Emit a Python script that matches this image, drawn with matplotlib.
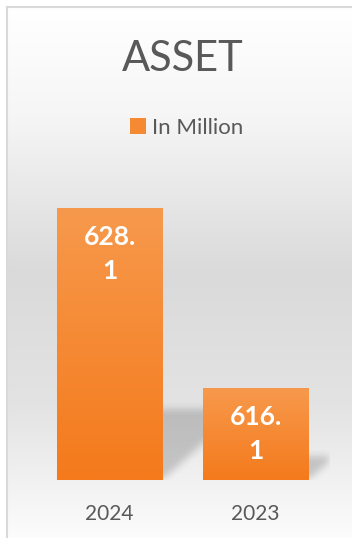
import numpy as np
import matplotlib.pyplot as plt
from matplotlib.patches import Patch
from matplotlib.path import Path

# Datos
years = ['2024', '2023']
values = [628.1, 616.1]
series_name = 'In Million'
title = 'ASSET'
y_min, y_max = 610, 630

plt.rcParams['font.family'] = ['Lato', 'DejaVu Sans']

W, H = 352, 538
fig = plt.figure(figsize=(W / 100, H / 100), dpi=100)

# Fondo con degradado y borde
bg = fig.add_axes([7 / W, 0, 1 - 7 / W, 1 - 7 / H], zorder=-10)
g = np.interp(np.linspace(0, 1, 400), [0, 0.2, 0.5, 0.75, 1], [255, 246, 218, 227, 252]) / 255
bg.imshow(np.stack([g, g, g], axis=-1)[:, None, :].repeat(2, axis=1), aspect='auto',
          extent=[0, 1, 0, 1], origin='upper')
bg.set_xticks([])
bg.set_yticks([])
for s in ['right', 'bottom']:
    bg.spines[s].set_visible(False)
for s in ['left', 'top']:
    bg.spines[s].set_color('#d9d9d9')
    bg.spines[s].set_linewidth(1.5)

# Área del gráfico
ax = fig.add_axes([36.5 / W, 58 / H, 292 / W, 300 / H])
ax.set_facecolor('none')
x = np.arange(len(years))
width = 105 / 146
ax.set_xlim(-0.5, len(years) - 0.5)
ax.set_ylim(y_min, y_max)

bars = ax.bar(x, np.array(values) - y_min, bottom=y_min, width=width,
              color='none', zorder=3)

# Degradado de las barras
t = np.linspace(0, 1, 100)[:, None, None]
top_c = np.array([247, 153, 76]) / 255
bot_c = np.array([244, 122, 28]) / 255
bar_img = (top_c * (1 - t) + bot_c * t).repeat(2, axis=1)
for b in bars:
    x0, y0 = b.get_x(), b.get_y()
    im = ax.imshow(bar_img, aspect='auto', origin='upper', zorder=3,
                   extent=[x0, x0 + b.get_width(), y0, y0 + b.get_height()])
    im.set_clip_path(b)

# Sombra en perspectiva (difuminada)
px_x = 292 / (len(years))
px_y = 300 / (y_max - y_min)
nx, ny = 292, 300
gx = np.linspace(-0.5, len(years) - 0.5, nx)
gy = np.linspace(y_min, y_max, ny)
GX, GY = np.meshgrid(gx, gy)
pts = np.column_stack([GX.ravel(), GY.ravel()])
mask = np.zeros(GX.shape)
for b in bars:
    x0, x1 = b.get_x(), b.get_x() + b.get_width()
    h_px = 0.26 * b.get_height() * px_y
    s = 1.1 * h_px / px_x
    yt = y_min + h_px / px_y
    poly = Path([(x0, y_min), (x1, y_min), (x1 + s, yt), (x0 + s, yt), (x0, y_min)])
    mask = np.maximum(mask, poly.contains_points(pts).reshape(GX.shape))
k = np.ones(9) / 9
for _ in range(2):
    mask = np.apply_along_axis(lambda r: np.convolve(r, k, mode='same'), 1, mask)
    mask = np.apply_along_axis(lambda c: np.convolve(c, k, mode='same'), 0, mask)
shadow = np.zeros((ny, nx, 4))
shadow[..., 3] = 0.18 * mask
ax.imshow(shadow, aspect='auto', origin='lower', zorder=2,
          extent=[-0.5, len(years) - 0.5, y_min, y_max])

# Etiquetas de datos
for xi, v in zip(x, values):
    lab = f'{v:.1f}'.replace('.', '.\n')
    ax.annotate(lab, (xi, v), xytext=(0, -12), textcoords='offset points',
                ha='center', va='top', color='white', fontsize=19,
                fontweight='bold', linespacing=1.5, zorder=5)

ax.set_xticks(x)
ax.set_xticklabels(years, fontsize=15, color='#595959')
ax.tick_params(axis='x', length=0, pad=17)
ax.set_yticks([])
for s in ax.spines.values():
    s.set_visible(False)

fig.text(183 / W, 1 - 59 / H, title, ha='center', va='center',
         fontsize=30, color='#595959')

handle = Patch(facecolor='#f58a32', edgecolor='none')
fig.legend([handle], [series_name], loc='center', bbox_to_anchor=(187 / W, 1 - 128 / H),
           frameon=False, fontsize=16, labelcolor='#595959',
           handlelength=0.7, handleheight=0.7, handletextpad=0.3)

fig.savefig('out.png', dpi=100)
